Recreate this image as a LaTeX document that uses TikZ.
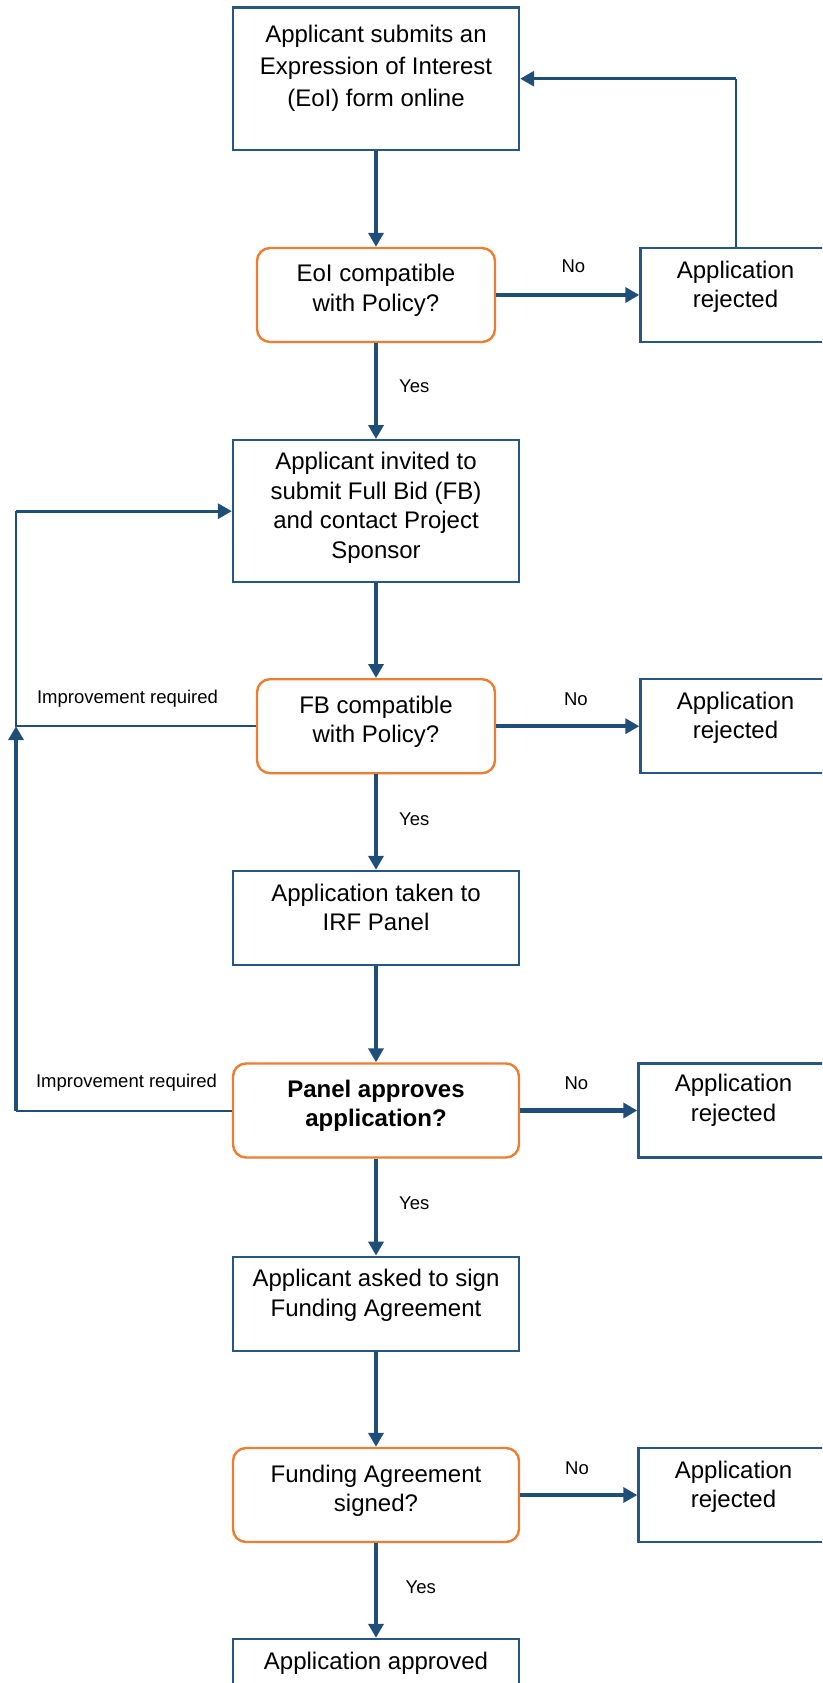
\documentclass[tikz,border=0pt]{standalone}
\usepackage{fontspec}
\setmainfont{Liberation Sans}
\usetikzlibrary{arrows.meta}
\definecolor{navy}{RGB}{31,78,121}
\definecolor{boxblue}{RGB}{40,86,132}
\definecolor{orng}{RGB}{237,125,49}
\newcommand\mtext[2][0pt]{\begin{tabular}{@{}c@{}}#2\\[#1]\end{tabular}}
\newcommand\mainsize{\fontsize{24}{29.5}\selectfont}
\newcommand\labsize{\fontsize{18.5}{21}\selectfont}
\tikzset{
  rectbox/.style={draw=boxblue, line width=2.4pt, minimum width=286pt, minimum height=94pt, inner sep=0pt, font=\mainsize, text=black},
  decbox/.style={draw=orng, line width=2.4pt, rounded corners=13pt, minimum height=94pt, inner sep=0pt, font=\mainsize, text=black},
  rejbox/.style={rectbox, minimum width=190pt},
  tip/.style={-{Triangle[length=14pt,width=15pt]}},
  arr/.style={draw=navy, line width=4.3pt, tip},
  thinln/.style={draw=navy, line width=2pt},
  looph/.style={draw=navy, line width=3.3pt, tip},
  upln/.style={draw=navy, line width=3.5pt, tip},
  lab/.style={font=\labsize, inner sep=0pt, text=black},
}
\begin{document}
\begin{tikzpicture}[x=1pt,y=-1pt]
\useasboundingbox (0,0) rectangle (822,1683);
\clip (0,0) rectangle (822,1683);
% nodes
\node[rectbox, minimum height=142pt] (b1) at (376,78.7) {\mtext[21pt]{Applicant submits an\\[2.5pt]Expression of Interest\\[2.5pt](EoI) form online}};
\node[decbox, minimum width=238pt] (d1) at (376,295) {\mtext[9pt]{EoI compatible\\with Policy?}};
\node[rejbox] (r1) at (735.5,295) {\mtext[16pt]{Application\\rejected}};
\node[rectbox, minimum height=142pt] (b2) at (376,511.2) {\mtext[6pt]{Applicant invited to\\submit Full Bid (FB)\\and contact Project\\Sponsor}};
\node[decbox, minimum width=238pt] (d2) at (376,726.2) {\mtext[8pt]{FB compatible\\with Policy?}};
\node[rejbox] (r2) at (735.5,726.2) {\mtext[16pt]{Application\\rejected}};
\node[rectbox] (b3) at (376,918) {\mtext[16pt]{Application taken to\\IRF Panel}};
\node[decbox, minimum width=286pt, font={\mainsize\bfseries}] (d3) at (376,1110.5) {\mtext[9pt]{Panel approves\\application?}};
\node[rejbox] (r3) at (733.5,1110.5) {\mtext[20pt]{Application\\rejected}};
\node[rectbox] (b4) at (376,1303.8) {\mtext[16pt]{Applicant asked to sign\\Funding Agreement}};
\node[decbox, minimum width=286pt] (d4) at (376,1495) {\mtext[7.4pt]{Funding Agreement\\signed?}};
\node[rejbox] (r4) at (733.5,1495) {\mtext[16pt]{Application\\rejected}};
\node[rectbox] (b5) at (376,1686) {\mtext[45pt]{Application approved}};
% corner coordinates
\coordinate (c1) at (r1.north |- b1.east);
\coordinate (L1) at (16,0 |- b2.west);
\coordinate (L2) at (16,0 |- d2.west);
\coordinate (L3) at (16,0 |- d3.west);
% main flow
\draw[arr] (b1) -- (d1);
\draw[arr] (d1) -- node[lab, pos=0.446, right=21pt] {Yes} (b2);
\draw[arr] (b2) -- (d2);
\draw[arr] (d2) -- node[lab, pos=0.467, right=21pt] {Yes} (b3);
\draw[arr] (b3) -- (d3);
\draw[arr] (d3) -- node[lab, pos=0.455, right=21pt] {Yes} (b4);
\draw[arr] (b4) -- (d4);
\draw[arr] (d4) -- node[lab, pos=0.47, right=27.5pt] {Yes} (b5);
% rejections
\draw[arr] (d1.east) -- node[lab, pos=0.539, yshift=28.3pt] {No} (r1.west);
\draw[arr] (d2.east) -- node[lab, pos=0.557, yshift=27.4pt] {No} (r2.west);
\draw[arr] (d3.east) -- node[lab, pos=0.48, yshift=27.4pt] {No} (r3.west);
\draw[arr] (d4.east) -- node[lab, pos=0.485, yshift=26.7pt] {No} (r4.west);
% loop back to EoI
\draw[thinln] (r1.north) -- (c1);
\draw[looph] (c1) -- (b1.east);
% improvement loops
\draw[thinln] (d2.west) -- node[lab, pos=0.535, yshift=27.4pt] {Improvement required} (L2) -- (L1);
\draw[looph] (L1) -- (b2.west);
\draw[thinln] (d3.west) -- node[lab, pos=0.488, yshift=27.4pt] {Improvement required} (L3);
\draw[upln] (L3) -- (L2);
\end{tikzpicture}
\end{document}
